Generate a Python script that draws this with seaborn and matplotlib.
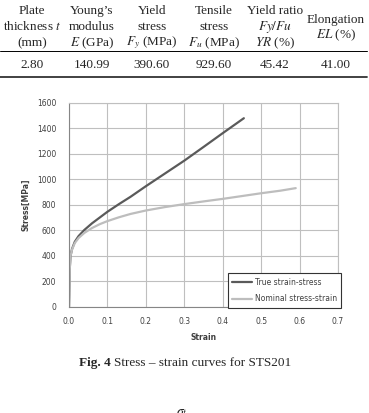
import matplotlib
matplotlib.use("Agg")
import matplotlib.pyplot as plt
from matplotlib.lines import Line2D
import pandas as pd
import seaborn as sns

# table contents
col_x = [32, 92, 152, 214, 275, 336]
headers = [
    ["Plate", "thickness $t$", "(mm)"],
    ["Young\u2019s", "modulus", "$E$ (GPa)"],
    ["Yield", "stress", "$F_y$ (MPa)"],
    ["Tensile", "stress", "$F_u$ (MPa)"],
    ["Yield ratio", "$Fy/Fu$", "$YR$ (%)"],
    ["Elongation", "$EL$ (%)"],
]
values = ["2.80", "140.99", "390.60", "929.60", "45.42", "41.00"]

# curves
true_strain = [0, 0.002, 0.004, 0.008, 0.015, 0.025, 0.04, 0.06, 0.08, 0.10,
               0.13, 0.16, 0.20, 0.25, 0.30, 0.35, 0.40, 0.455]
true_stress = [0, 300, 400, 455, 510, 555, 603, 655, 700, 745,
               805, 862, 945, 1045, 1145, 1252, 1360, 1477]
nom_strain = [0, 0.002, 0.004, 0.008, 0.015, 0.025, 0.04, 0.06, 0.08, 0.10,
              0.13, 0.16, 0.20, 0.25, 0.30, 0.35, 0.40, 0.45, 0.50, 0.55, 0.59]
nom_stress = [0, 300, 400, 450, 500, 540, 580, 618, 648, 672,
              702, 728, 755, 782, 805, 826, 846, 868, 890, 910, 930]

x_ticks = [0.0, 0.1, 0.2, 0.3, 0.4, 0.5, 0.6, 0.7]
y_ticks = [0, 200, 400, 600, 800, 1000, 1200, 1400, 1600]

sns.set_style("white")
plt.rcParams["font.family"] = ["DejaVu Sans"]
plt.rcParams["mathtext.fontset"] = "stix"

W, H = 369, 413
fig = plt.figure(figsize=(W / 100, H / 100), dpi=100)


def fy(py):
    return 1 - py / H


serif = "Liberation Serif"

# --- table ---
for x, lines in zip(col_x, headers):
    rows = [11, 27, 43] if len(lines) == 3 else [20, 35]
    for py, s in zip(rows, lines):
        fig.text(x / W, fy(py), s, ha="center", va="center",
                 family=serif, fontsize=9.5)
for x, v in zip(col_x, values):
    fig.text(x / W, fy(65), v, ha="center", va="center",
             family=serif, fontsize=9.5)
fig.add_artist(Line2D([0, 367 / W], [fy(51), fy(51)], color="black", lw=0.7,
                      transform=fig.transFigure))
fig.add_artist(Line2D([0, 367 / W], [fy(77), fy(77)], color="#333333", lw=1.3,
                      transform=fig.transFigure))

# --- chart ---
ax = fig.add_axes([69 / W, fy(307), (338 - 69) / W, (307 - 102.5) / H])
df_true = pd.DataFrame({"Strain": true_strain, "Stress": true_stress})
df_nom = pd.DataFrame({"Strain": nom_strain, "Stress": nom_stress})
sns.lineplot(data=df_true, x="Strain", y="Stress", ax=ax, color="#5a5a5a",
             lw=1.6, label="True strain-stress", sort=False)
sns.lineplot(data=df_nom, x="Strain", y="Stress", ax=ax, color="#bdbdbd",
             lw=1.6, label="Nominal stress-strain", sort=False)

ax.set_xlim(0, 0.7)
ax.set_ylim(0, 1600)
ax.set_xticks(x_ticks)
ax.set_yticks(y_ticks)
ax.set_xticklabels([f"{t:.1f}" for t in x_ticks])
ax.grid(True, color="#bfbfbf", lw=0.8)
ax.set_axisbelow(True)
for side in ["top", "right"]:
    ax.spines[side].set_color("#bfbfbf")
    ax.spines[side].set_linewidth(0.8)
for side in ["left", "bottom"]:
    ax.spines[side].set_color("#868686")
    ax.spines[side].set_linewidth(0.8)
ax.tick_params(axis="both", labelsize=5.5, labelcolor="#404040", length=3,
               width=0.7, color="#868686", direction="out", pad=4)
ax.tick_params(axis="y", left=False, pad=6)
ax.set_xlabel("Strain", fontsize=5.5, fontweight="bold", color="#404040",
              labelpad=5)
ax.set_ylabel("Stress[MPa]", fontsize=5.5, fontweight="bold", color="#404040",
              labelpad=5)

leg = ax.legend(loc="lower right", bbox_to_anchor=(1.012, -0.005),
                borderaxespad=0, fontsize=5.5, frameon=True, fancybox=False,
                handlelength=2.6, handletextpad=0.3, labelspacing=1.0,
                borderpad=0.6)
leg.get_frame().set_edgecolor("#333333")
leg.get_frame().set_linewidth(0.8)
leg.get_frame().set_alpha(1)
for t in leg.get_texts():
    t.set_color("#404040")

# --- caption ---
fig.text(111 / W, fy(363), "Fig. 4", ha="right", va="center", family=serif,
         fontsize=9.5, fontweight="bold")
fig.text(114 / W, fy(363), "Stress \u2013 strain curves for STS201", ha="left",
         va="center", family=serif, fontsize=9.5)
fig.text(182 / W, fy(405), r"$\sigma_t$", ha="center", va="top", fontsize=10)

fig.savefig("out.png", dpi=100)
